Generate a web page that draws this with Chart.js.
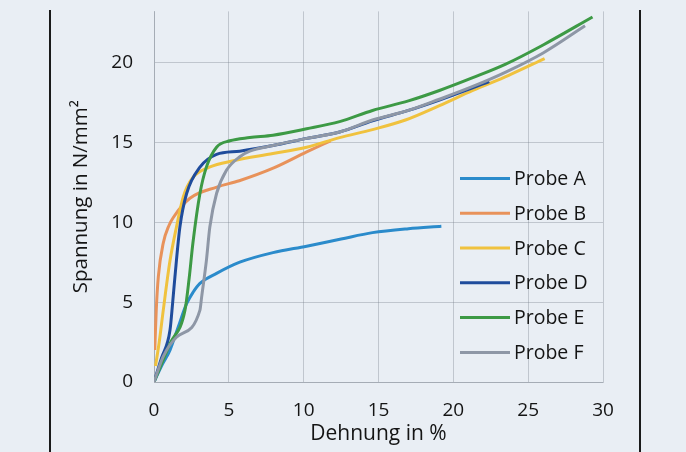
<!DOCTYPE html>
<html>
<head>
<meta charset="utf-8">
<script src="https://cdn.jsdelivr.net/npm/chart.js@4.4.1/dist/chart.umd.min.js"></script>
<style>
  html, body { margin: 0; padding: 0; }
  body { width: 686px; height: 452px; background: #e9eef4; position: relative; overflow: hidden; }
  #wrap { position: absolute; left: 0; top: -21px; width: 686px; height: 473px; }
  .frame { position: absolute; top: 10px; bottom: 0; width: 2px; background: #1a1a1a; }
</style>
</head>
<body>
<div class="frame" style="left:49px"></div>
<div class="frame" style="left:639px"></div>
<div id="wrap"><canvas id="c" width="686" height="473"></canvas></div>
<script>
// ---- data (Dehnung in %, Spannung in N/mm²) ----
const seriesNames = ["Probe A", "Probe B", "Probe C", "Probe D", "Probe E", "Probe F"];
const seriesColors = ["#2b8bcb", "#e8925a", "#f0c23e", "#1f4c9c", "#3d9a45", "#8e97a6"];

const probeA_x = [0, 0.5, 1.07, 1.6, 2.18, 2.6, 3.07, 4.18, 5.73, 7.95, 10.2, 12.5, 14.6, 17.0, 19.2];
const probeA_y = [0, 1.0, 2.0, 3.4, 4.9, 5.6, 6.17, 6.8, 7.5, 8.1, 8.5, 8.95, 9.35, 9.6, 9.75];

const probeB_x = [0.05, 0.15, 0.29, 0.62, 1.0, 1.29, 2.4, 4.2, 5.7, 8.0, 10.2, 11.8];
const probeB_y = [2.0, 4.5, 6.6, 8.7, 9.8, 10.3, 11.5, 12.2, 12.6, 13.4, 14.4, 15.1];

const probeC_x = [0.1, 0.35, 0.62, 1.07, 1.5, 1.96, 2.6, 3.7, 5.3, 7.95, 10.2, 12.4, 14.6, 16.8, 19.07, 21.3, 23.7, 26.1];
const probeC_y = [1.0, 2.5, 4.5, 7.6, 9.7, 11.6, 12.8, 13.45, 13.85, 14.3, 14.7, 15.3, 15.8, 16.4, 17.3, 18.25, 19.2, 20.25];

const probeD_x = [0, 0.5, 1.07, 1.25, 1.4, 1.73, 2.18, 3.07, 4.18, 5.73, 7.95, 10.2, 12.4, 14.6, 17.0, 19.07, 22.4];
const probeD_y = [0, 1.5, 3.25, 5.0, 6.6, 9.7, 11.8, 13.45, 14.25, 14.45, 14.8, 15.25, 15.65, 16.35, 17.0, 17.65, 18.8];

const probeE_x = [0, 1.07, 2.07, 2.35, 2.6, 3.07, 3.5, 4.18, 5.07, 6.4, 7.95, 10.2, 12.4, 14.6, 17.0, 19.07, 21.3, 23.5, 26.0, 29.3];
const probeE_y = [0, 2.4, 4.5, 6.5, 8.7, 11.8, 13.45, 14.7, 15.1, 15.3, 15.45, 15.85, 16.3, 17.0, 17.6, 18.25, 19.05, 19.9, 21.1, 22.85];

const probeF_x = [0, 0.62, 1.5, 3.07, 3.18, 3.5, 3.73, 4.18, 4.84, 5.73, 6.4, 7.95, 10.2, 12.4, 14.6, 17.0, 19.07, 21.3, 23.5, 26.0, 28.8];
const probeF_y = [0, 1.6, 2.8, 4.5, 5.3, 7.6, 9.7, 11.8, 13.25, 14.1, 14.45, 14.8, 15.25, 15.65, 16.4, 17.0, 17.7, 18.5, 19.4, 20.6, 22.3];

const xTicks = [0, 5, 10, 15, 20, 25, 30];
const yTicks = [0, 5, 10, 15, 20];

const xTitle = "Dehnung in %";
const yTitle = "Spannung in N/mm²";

const xs = [probeA_x, probeB_x, probeC_x, probeD_x, probeE_x, probeF_x];
const ys = [probeA_y, probeB_y, probeC_y, probeD_y, probeE_y, probeF_y];

const FONT = "'Open Sans', Lato, sans-serif";
const TEXT = "#141414";
const GRID = "rgba(110,118,130,0.33)";

const datasets = seriesNames.map((name, i) => ({
  label: name,
  data: xs[i].map((x, k) => ({ x: x, y: ys[i][k] })),
  borderColor: seriesColors[i],
  backgroundColor: seriesColors[i],
  borderWidth: 3,
  pointRadius: 0,
  showLine: true,
  fill: false,
  cubicInterpolationMode: 'monotone',
  order: seriesNames.length - i
}));

const insideLegend = {
  id: 'insideLegend',
  afterDatasetsDraw(chart) {
    const { ctx, chartArea } = chart;
    const x0 = chartArea.right - 143;
    const lineLen = 50;
    const y0 = chartArea.top + 167;
    const step = 34.8;
    ctx.save();
    ctx.font = "19.5px " + FONT;
    ctx.textBaseline = 'middle';
    ctx.textAlign = 'left';
    chart.data.datasets.forEach((ds, i) => {
      const y = y0 + i * step;
      ctx.strokeStyle = ds.borderColor;
      ctx.lineWidth = 3;
      ctx.beginPath();
      ctx.moveTo(x0, y);
      ctx.lineTo(x0 + lineLen, y);
      ctx.stroke();
      ctx.fillStyle = TEXT;
      ctx.fillText(ds.label, x0 + lineLen + 4, y + 1);
    });
    ctx.restore();
  }
};

new Chart(document.getElementById('c'), {
  type: 'scatter',
  data: { datasets: datasets },
  options: {
    responsive: false,
    animation: false,
    layout: { padding: { left: 60, right: 83, top: 11, bottom: 0 } },
    plugins: { legend: { display: false }, tooltip: { enabled: false } },
    scales: {
      x: {
        type: 'linear',
        min: 0, max: 30,
        afterBuildTicks(scale) { scale.ticks = xTicks.map(v => ({ value: v })); },
        afterFit(scale) { scale.height = 70; },
        grid: { color: GRID, drawTicks: false },
        border: { color: GRID },
        ticks: { padding: 17, color: TEXT, font: { family: FONT, size: 19 } },
        title: { display: true, text: xTitle, color: TEXT, font: { family: FONT, size: 21 }, padding: { top: 0, bottom: 5 } }
      },
      y: {
        type: 'linear',
        min: 0, max: 23.2,
        afterBuildTicks(scale) { scale.ticks = yTicks.map(v => ({ value: v })); },
        afterFit(scale) { scale.width = 94; },
        grid: { color: GRID, drawTicks: false },
        border: { color: GRID },
        ticks: { padding: 21, color: TEXT, font: { family: FONT, size: 19 } },
        title: { display: true, text: yTitle, color: TEXT, font: { family: FONT, size: 20.5 }, padding: { top: 9, bottom: 0 } }
      }
    }
  },
  plugins: [insideLegend]
});
</script>
</body>
</html>
